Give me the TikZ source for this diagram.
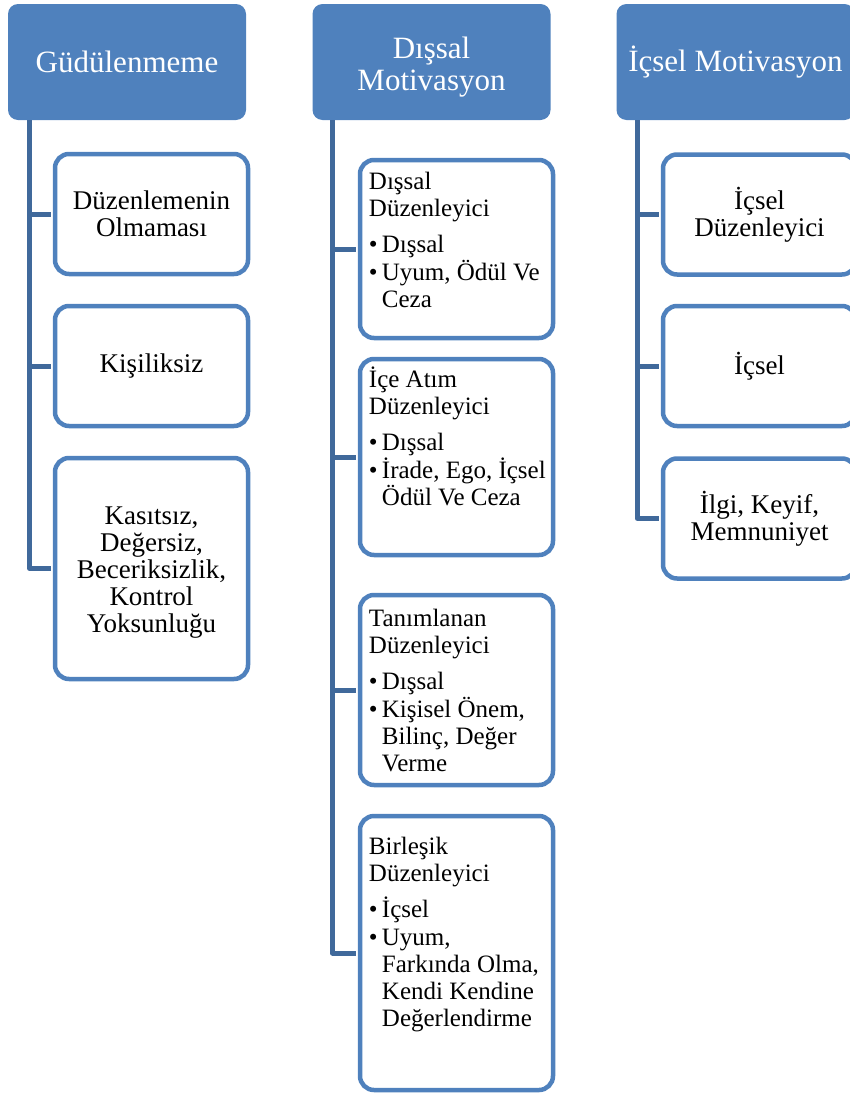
\documentclass[tikz,border=0pt]{standalone}
\usepackage{fontspec}
\setmainfont{Liberation Serif}
\usepackage{xcolor}
\usepackage{tikz}
\usetikzlibrary{positioning}
\definecolor{hdblue}{RGB}{79,129,189}
\definecolor{lnblue}{RGB}{64,105,155}
\newcommand{\tightlines}{\lineskiplimit=-100pt\relax}
\tikzstyle{head} = [fill=hdblue, text=white, rounded corners=10pt, minimum width=238pt, minimum height=116pt, inner sep=0pt, align=center, font=\fontsize{31}{32}\selectfont\tightlines]
\tikzstyle{kid} = [draw=hdblue, fill=white, line width=4.5pt, rounded corners=14pt, minimum width=193pt, inner sep=0pt, align=center, font=\fontsize{27}{27}\selectfont\tightlines]
\tikzstyle{kidtext} = [anchor=north west, inner sep=0pt, align=left, font=\fontsize{25}{27}\selectfont\tightlines]
\tikzstyle{trunk} = [draw=lnblue, line width=5pt, line join=round, shorten >=2pt]
\newcommand{\bul}{\makebox[13pt][l]{\textbullet}}
\newcommand{\ind}{\hspace*{13pt}}

\begin{document}
\begin{tikzpicture}[x=1pt, y=-1pt]
    \useasboundingbox (0,0) rectangle (850,1095);
    \clip (0,0) rectangle (850,1095);

    % headers
    \node[head] (hA) at (127,62) {Güdülenmeme};
    \node[head] (hB) at (431.5,62) {\rule{0pt}{31pt}Dışsal\\Motivasyon};
    \node[head] (hC) at (735.5,62) {İçsel Motivasyon};
    \coordinate (tA) at ([xshift=22pt]hA.south west);
    \coordinate (tB) at ([xshift=20pt]hB.south west);
    \coordinate (tC) at ([xshift=21pt]hC.south west);

    % left column
    \node[kid, minimum height=120pt] (a1) at (151.5,214) {Düzenlemenin\\Olmaması};
    \node[kid, minimum height=120pt] (a2) at (151.5,366) {Kişiliksiz};
    \node[kid, minimum height=221pt] (a3) at (151.5,568.5) {\rule{0pt}{25pt}Kasıtsız,\\Değersiz,\\Beceriksizlik,\\Kontrol\\Yoksunluğu};

    % middle column
    \node[kid, minimum height=178pt] (b1) at (456.5,249) {};
    \node[kid, minimum height=196pt] (b2) at (456.5,457) {};
    \node[kid, minimum height=190pt] (b3) at (456.5,690) {};
    \node[kid, minimum height=274pt] (b4) at (456.5,953) {};
    \node[kidtext] (b1t) at ([xshift=11pt, yshift=-13pt]b1.north west)
        {\strut Dışsal\\ Düzenleyici\\[9pt] \bul Dışsal\\[1pt] \bul Uyum, Ödül Ve\\ \ind Ceza};
    \node[kidtext] (b2t) at ([xshift=11pt, yshift=-10pt]b2.north west)
        {\strut İçe Atım\\ Düzenleyici\\[9pt] \bul Dışsal\\[1pt] \bul İrade, Ego, İçsel\\ \ind Ödül Ve Ceza};
    \node[kidtext] (b3t) at ([xshift=11pt, yshift=-15pt]b3.north west)
        {\strut Tanımlanan\\ Düzenleyici\\[9pt] \bul Dışsal\\[1pt] \bul Kişisel Önem,\\ \ind Bilinç, Değer\\ \ind Verme};
    \node[kidtext] (b4t) at ([xshift=11pt, yshift=-22pt]b4.north west)
        {\strut Birleşik\\ Düzenleyici\\[9pt] \bul İçsel\\[1pt] \bul Uyum,\\ \ind Farkında Olma,\\ \ind Kendi Kendine\\ \ind Değerlendirme};

    % right column
    \node[kid, minimum height=120pt] (c1) at (759.5,214.5) {İçsel\\Düzenleyici};
    \node[kid, minimum height=120pt] (c2) at (759.5,366) {İçsel};
    \node[kid, minimum height=120pt] (c3) at (759.5,518.5) {İlgi, Keyif,\\Memnuniyet};

    % connectors
    \draw[trunk] (tA) |- (a1.west);
    \draw[trunk] (tA) |- (a2.west);
    \draw[trunk] (tA) |- (a3.west);
    \draw[trunk] (tB) |- (b1.west);
    \draw[trunk] (tB) |- (b2.west);
    \draw[trunk] (tB) |- (b3.west);
    \draw[trunk] (tB) |- (b4.west);
    \draw[trunk] (tC) |- (c1.west);
    \draw[trunk] (tC) |- (c2.west);
    \draw[trunk] (tC) |- (c3.west);
\end{tikzpicture}
\end{document}
